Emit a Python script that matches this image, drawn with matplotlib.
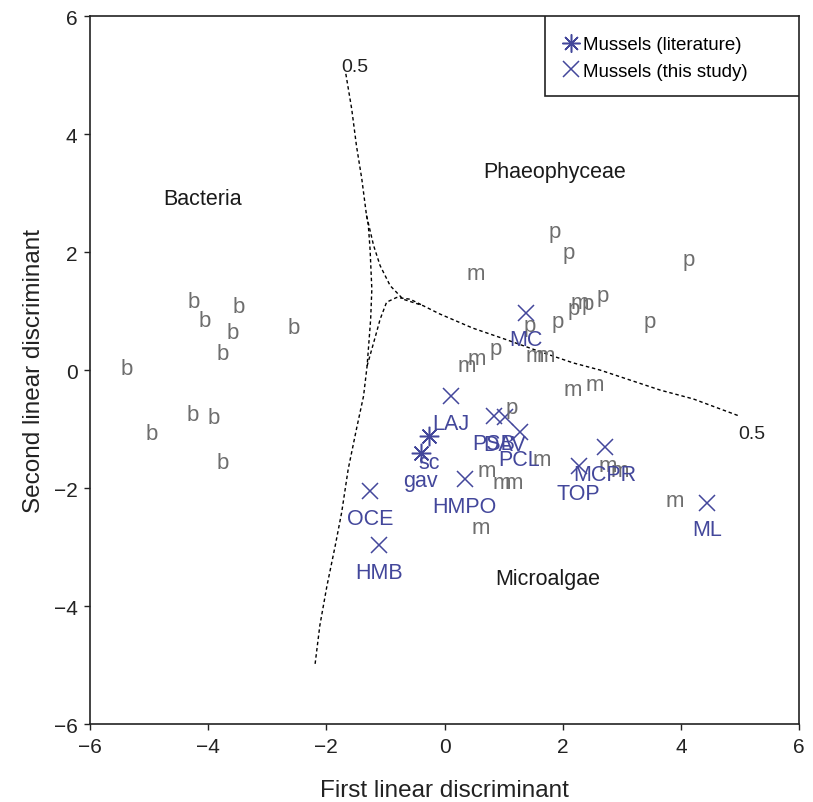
import matplotlib
matplotlib.use("Agg")
import matplotlib.pyplot as plt
from matplotlib.lines import Line2D
from matplotlib.patches import Rectangle

plt.rcParams['font.family'] = ['Liberation Sans', 'DejaVu Sans']

# ---- data ----
bacteria_x = [-4.24, -3.49, -4.05, -3.58, -2.56, -3.76, -5.37, -4.26, -3.90, -4.96, -3.76]
bacteria_y = [1.16, 1.08, 0.84, 0.64, 0.72, 0.28, 0.02, -0.75, -0.80, -1.08, -1.56]

phaeo_x = [1.86, 2.10, 4.14, 2.68, 2.43, 2.18, 3.47, 1.91, 1.45, 0.87, 1.13]
phaeo_y = [2.34, 1.99, 1.88, 1.27, 1.12, 1.05, 0.82, 0.82, 0.76, 0.36, -0.63]

micro_x = [0.53, 0.55, 0.38, 1.53, 1.72, 2.29, 2.17, 2.55, 1.64, 0.72, 0.97, 1.18, 2.77, 2.97, 0.62, 3.90]
micro_y = [1.64, 0.19, 0.08, 0.24, 0.24, 1.15, -0.33, -0.25, -1.51, -1.71, -1.90, -1.90, -1.62, -1.71, -2.67, -2.21]

study_labels = ['LAJ', 'PSB', 'DAV', 'PCL', 'HMPO', 'TOP', 'MCPR', 'MC', 'OCE', 'HMB', 'ML']
study_x = [0.11, 0.84, 1.02, 1.27, 0.34, 2.27, 2.71, 1.38, -1.26, -1.11, 4.44]
study_y = [-0.44, -0.78, -0.80, -1.05, -1.85, -1.63, -1.31, 0.97, -2.05, -2.97, -2.25]

lit_labels = ['sc', 'gav']
lit_x = [-0.26, -0.40]
lit_y = [-1.11, -1.41]

# 0.5 posterior-probability boundaries
bound_top_x = [-1.67, -1.57, -1.49, -1.40, -1.32, -1.20, -1.09, -0.92, -0.70, -0.36, -0.08,
               0.48, 1.06, 1.62, 2.18, 2.63, 3.14, 3.65, 4.21, 4.99]
bound_top_y = [5.02, 4.42, 3.80, 3.24, 2.62, 2.11, 1.77, 1.43, 1.20, 1.09, 0.95,
               0.71, 0.51, 0.31, 0.12, 0.00, -0.17, -0.34, -0.49, -0.78]
bound_low_x = [-2.19, -2.11, -1.99, -1.85, -1.74, -1.63, -1.49, -1.37, -1.31, -1.25, -1.23, -1.26, -1.29, -1.32]
bound_low_y = [-4.98, -4.33, -3.66, -2.98, -2.41, -1.68, -1.00, -0.44, 0.07, 0.86, 1.37, 2.05, 2.46, 2.62]
bound_branch_x = [-1.31, -1.15, -1.09, -0.98, -0.81, -0.58, -0.36]
bound_branch_y = [0.07, 0.64, 0.86, 1.15, 1.23, 1.20, 1.09]

region_labels = ['Bacteria', 'Phaeophyceae', 'Microalgae']
region_x = [-4.10, 1.87, 1.74]
region_y = [2.90, 3.36, -3.54]

ticks = [-6, -4, -2, 0, 2, 4, 6]

# ---- styling ----
blue = '#43479b'
grey = '#6e6e6e'

fig = plt.figure(figsize=(8.13, 8.03), dpi=100)
ax = fig.add_axes([0.1107, 0.0971, 0.8721, 0.8817])

for s in ax.spines.values():
    s.set_linewidth(1.2)
    s.set_color('#222222')

line_kw = dict(color='black', lw=1.0, linestyle=(0, (2.5, 2)))
ax.plot(bound_top_x, bound_top_y, **line_kw)
ax.plot(bound_low_x, bound_low_y, **line_kw)
ax.plot(bound_branch_x, bound_branch_y, **line_kw)
ax.text(bound_top_x[0] - 0.07, bound_top_y[0] + 0.13, '0.5', fontsize=14, ha='left', va='center', color='#222222')
ax.text(bound_top_x[-1] - 0.02, bound_top_y[-1] - 0.30, '0.5', fontsize=14, ha='left', va='center', color='#222222')

for x, y in zip(bacteria_x, bacteria_y):
    ax.text(x, y, 'b', fontsize=16, color=grey, ha='center', va='center')
for x, y in zip(phaeo_x, phaeo_y):
    ax.text(x, y, 'p', fontsize=16, color=grey, ha='center', va='center')
for x, y in zip(micro_x, micro_y):
    ax.text(x, y, 'm', fontsize=16, color=grey, ha='center', va='center')

ax.plot(lit_x, lit_y, linestyle='none', marker=(8, 2, 0), markersize=14, mew=1.1, color=blue)
ax.plot(study_x, study_y, linestyle='none', marker='x', markersize=12, mew=1.1, color=blue)

for lab, x, y in zip(lit_labels + study_labels, lit_x + study_x, lit_y + study_y):
    ax.annotate(lab, (x, y), xytext=(0, -19.5), textcoords='offset points',
                ha='center', va='center', fontsize=15.5, color=blue)

for lab, x, y in zip(region_labels, region_x, region_y):
    ax.text(x, y, lab, fontsize=15.5, ha='center', va='center', color='#1a1a1a')

ax.set_xlim(-6, 6)
ax.set_ylim(-6, 6)
ax.set_xticks(ticks)
ax.set_yticks(ticks)
ax.set_xticklabels(['\u2212' + str(-t) if t < 0 else str(t) for t in ticks])
ax.set_yticklabels(['\u2212' + str(-t) if t < 0 else str(t) for t in ticks])
ax.tick_params(direction='out', length=4, width=1, labelsize=15, colors='#222222', pad=5)
ax.set_xlabel('First linear discriminant', fontsize=17.5, color='#222222', labelpad=17)
ax.set_ylabel('Second linear discriminant', fontsize=17.5, color='#222222', labelpad=6)

# legend box
x0 = (545 - 90) / 709
y0 = (725 - 97) / 708
ax.add_patch(Rectangle((x0, y0), 1 - x0, 1 - y0, transform=ax.transAxes,
                       facecolor='white', edgecolor='#222222', lw=1.2, zorder=5))
handles = [Line2D([], [], linestyle='none', marker=(8, 2, 0), markersize=13, mew=1.1, color=blue),
           Line2D([], [], linestyle='none', marker='x', markersize=11, mew=1.1, color=blue)]
leg = ax.legend(handles, ['Mussels (literature)', 'Mussels (this study)'],
                loc='upper left', bbox_to_anchor=(x0 + 0.002, 0.993), frameon=False,
                fontsize=13.5, handlelength=1.0, handletextpad=0.15, labelspacing=0.5,
                borderpad=0.3)
leg.set_zorder(6)

fig.savefig('out.png', dpi=100)
